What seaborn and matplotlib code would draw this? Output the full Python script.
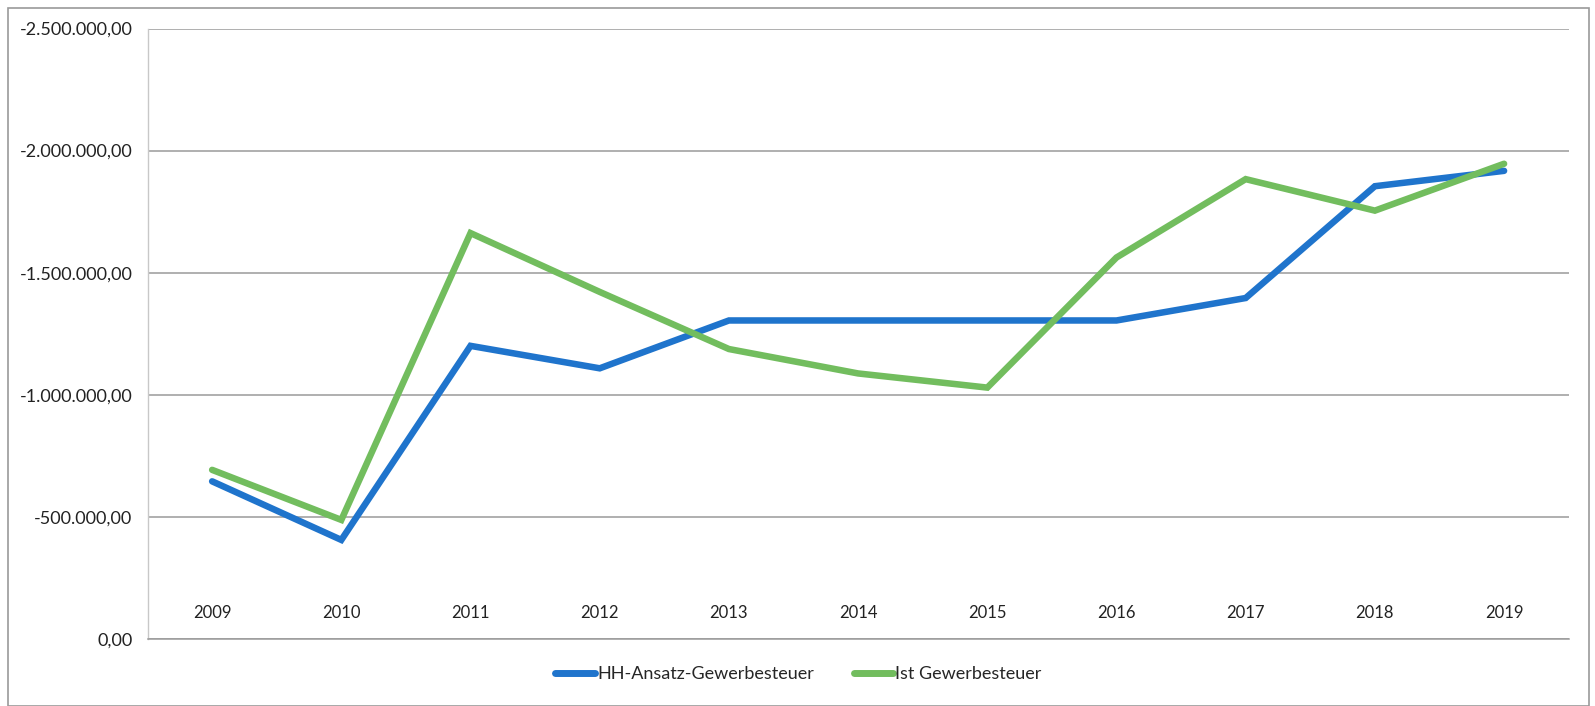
import numpy as np
import pandas as pd
import matplotlib
matplotlib.use("Agg")
import matplotlib.pyplot as plt
import seaborn as sns
from matplotlib.ticker import FuncFormatter, FixedLocator
from matplotlib.patches import Rectangle

years = [2009, 2010, 2011, 2012, 2013, 2014, 2015, 2016, 2017, 2018, 2019]
hh_ansatz = [-645000, -405000, -1200000, -1108000, -1304000, -1304000,
             -1304000, -1304000, -1396000, -1854000, -1917000]
ist = [-692000, -487000, -1662000, -1421000, -1187000, -1087000,
       -1029000, -1562000, -1883000, -1754000, -1946000]
series_names = ["HH-Ansatz-Gewerbesteuer", "Ist Gewerbesteuer"]
colors = ["#1f74cc", "#72bd5e"]
y_ticks = [0, -500000, -1000000, -1500000, -2000000, -2500000]

df = pd.DataFrame({
    "Jahr": years * 2,
    "Wert": hh_ansatz + ist,
    "Reihe": [series_names[0]] * len(years) + [series_names[1]] * len(years),
})

sns.set_theme(style="white")
plt.rcParams["font.family"] = ["Lato", "DejaVu Sans"]

fig = plt.figure(figsize=(15.95, 7.06), dpi=100)
ax = fig.add_axes([0.0925, 0.0952, 0.891, 0.8644])

sns.lineplot(data=df, x="Jahr", y="Wert", hue="Reihe", hue_order=series_names,
             palette=colors, linewidth=4.7, ax=ax, legend=False,
             solid_capstyle="round", solid_joinstyle="miter")

ax.set_xlim(years[0] - 0.5, years[-1] + 0.5)
ax.set_ylim(0, -2500000)
ax.set_yticks(y_ticks)

def de_fmt(v, pos=None):
    s = f"{v:,.2f}"
    return s.replace(",", "X").replace(".", ",").replace("X", ".")

ax.yaxis.set_major_formatter(FuncFormatter(de_fmt))
ax.set_xticks(years)
ax.set_xticklabels([str(y) for y in years])
ax.xaxis.set_minor_locator(FixedLocator(np.arange(years[0] - 0.5, years[-1] + 1, 1.0)))
ax.tick_params(axis="x", which="major", length=0, pad=-24, labelsize=12, labelcolor="#222222")
ax.tick_params(axis="x", which="minor", direction="in", length=5, width=0.9, color="#8a8a8a")
ax.tick_params(axis="y", which="major", direction="out", length=5, width=0.9,
               color="#8a8a8a", labelsize=13, labelcolor="#222222", pad=6)
ax.set_xlabel("")
ax.set_ylabel("")

ax.grid(axis="y", color="#9a9a9a", linewidth=1.1)
ax.grid(axis="x", visible=False)
for side in ["top", "right"]:
    ax.spines[side].set_visible(False)
ax.spines["left"].set_color("#c8c8c8")
ax.spines["left"].set_linewidth(1.0)
ax.spines["bottom"].set_color("#9a9a9a")
ax.spines["bottom"].set_linewidth(1.1)

handles = [plt.Line2D([0], [0], color=c, lw=5, solid_capstyle="round") for c in colors]
fig.legend(handles, series_names, loc="center", bbox_to_anchor=(0.5006, 0.045),
           ncol=2, frameon=False, fontsize=13, handlelength=2.2, handletextpad=0.1,
           columnspacing=2.2)

fig.patches.append(Rectangle((8 / 1595, 0.0), 1581 / 1595, 1 - 8 / 706,
                             transform=fig.transFigure, fill=False,
                             edgecolor="#9a9a9a", linewidth=1.2))

fig.savefig("out.png", dpi=100)
